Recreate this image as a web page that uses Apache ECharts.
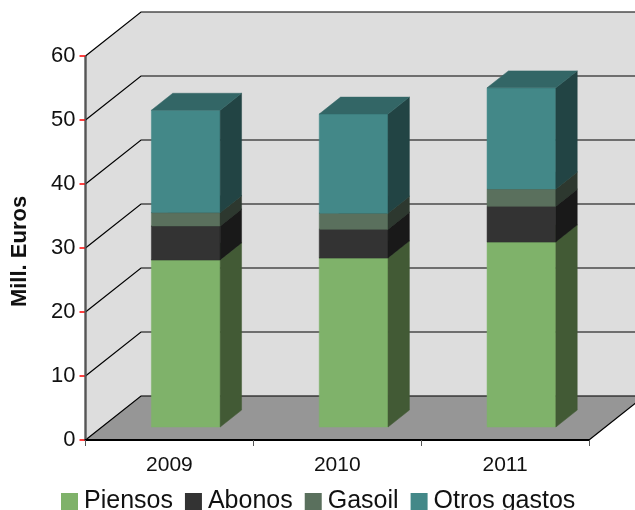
<!DOCTYPE html>
<html>
<head>
<meta charset="utf-8">
<style>
    html, body { margin: 0; padding: 0; background: #fff; overflow: hidden; }
    #chart { width: 635px; height: 510px; }
</style>
<script src="https://cdn.jsdelivr.net/npm/echarts@6/dist/echarts.min.js"></script>
</head>
<body>
<div id="chart"></div>
<script>
const years = ["2009", "2010", "2011"];
const yTicks = [0, 10, 20, 30, 40, 50, 60];

const piensos = [26.1, 26.4, 28.9];
const abonos = [5.3, 4.5, 5.6];
const gasoil = [2.1, 2.5, 2.7];
const otros = [16.0, 15.5, 15.8];

const seriesNames = ["Piensos", "Abonos", "Gasoil", "Otros gastos"];
const seriesValues = [piensos, abonos, gasoil, otros];
const frontColors = ["#7FB26A", "#333333", "#5A705D", "#438888"];
const sideColors = ["#425A35", "#191919", "#2D382F", "#224444"];
const topColors = ["#5F8650", "#262626", "#435446", "#336666"];

const fontFamily = '"Liberation Sans", Arial, sans-serif';

// oblique projection of the chart box
const depthX = 55.5;
const depthY = 44;
const barFront = 0.295;
const barBack = 0.68;
const barRatio = 0.41;
const tickLength = 6;

function project(point, depth) {
    return [point[0] + depth * depthX, point[1] - depth * depthY];
}

function polygon(points, color) {
    return {
        type: "polygon",
        shape: { points },
        style: { fill: color, stroke: color, lineWidth: 0.5 },
    };
}

function renderWalls(params, api) {
    const cs = params.coordSys;
    const bl = [cs.x, cs.y + cs.height];
    const tl = [cs.x, cs.y];
    const br = [cs.x + cs.width, cs.y + cs.height];
    const tr = [cs.x + cs.width, cs.y];
    return {
        type: "group",
        children: [
            polygon([bl, tl, project(tl, 1), project(bl, 1)], "#DDDDDD"),
            polygon([project(bl, 1), project(tl, 1), project(tr, 1), project(br, 1)], "#DDDDDD"),
            polygon([bl, br, project(br, 1), project(bl, 1)], "#969696"),
            {
                type: "polyline",
                shape: { points: [br, project(br, 1)] },
                style: { stroke: "#000", lineWidth: 1.2, fill: null },
            },
        ],
    };
}

// the y axis line and ticks are drawn here so they stay on top of the side wall
function renderGridLine(params, api) {
    const cs = params.coordSys;
    const y = api.coord([0, api.value(0)])[1];
    const start = [cs.x, y];
    const end = [cs.x + cs.width, y];
    return {
        type: "group",
        children: [
            {
                type: "polyline",
                shape: { points: [start, project(start, 1), project(end, 1)] },
                style: { stroke: "#000", lineWidth: 1.2, fill: null },
            },
            {
                type: "polyline",
                shape: { points: [[cs.x - tickLength, y], start] },
                style: { stroke: "#f00", lineWidth: 1.5, fill: null },
            },
            {
                type: "line",
                shape: { x1: cs.x, y1: cs.y, x2: cs.x, y2: cs.y + cs.height },
                style: { stroke: "#555", lineWidth: 1.3 },
            },
        ],
    };
}

function makeBarRenderer(index) {
    return function (params, api) {
        const center = api.coord([api.value(0), api.value(1)]);
        const topCenter = api.coord([api.value(0), api.value(2)]);
        const half = (api.size([1, 0])[0] * barRatio) / 2;
        const lo = project([center[0] - half, center[1]], barFront);
        const ro = project([center[0] + half, center[1]], barFront);
        const lt = project([center[0] - half, topCenter[1]], barFront);
        const rt = project([center[0] + half, topCenter[1]], barFront);
        const shift = function (p) {
            return [p[0] + (barBack - barFront) * depthX, p[1] - (barBack - barFront) * depthY];
        };
        return {
            type: "group",
            children: [
                polygon([lo, ro, rt, lt], frontColors[index]),
                polygon([ro, shift(ro), shift(rt), rt], sideColors[index]),
                polygon([lt, rt, shift(rt), shift(lt)], topColors[index]),
            ],
        };
    };
}

function barData(index) {
    return years.map(function (year, i) {
        let base = 0;
        for (let s = 0; s < index; s++) {
            base += seriesValues[s][i];
        }
        return [i, base, base + seriesValues[index][i]];
    });
}

const chart = echarts.init(document.getElementById("chart"));

const series = [
    {
        type: "custom",
        silent: true,
        clip: false,
        z: 1,
        data: [[0]],
        renderItem: renderWalls,
    },
    {
        type: "custom",
        silent: true,
        clip: false,
        z: 1,
        data: yTicks.map(function (t) { return [t]; }),
        encode: { y: 0 },
        renderItem: renderGridLine,
    },
];

seriesNames.forEach(function (name, index) {
    series.push({
        name,
        type: "custom",
        clip: false,
        z: 2,
        itemStyle: { color: frontColors[index] },
        encode: { x: 0, y: [1, 2] },
        data: barData(index),
        renderItem: makeBarRenderer(index),
    });
});

chart.setOption({
    animation: false,
    backgroundColor: "#fff",
    grid: { left: 85.5, right: 46, top: 56, bottom: 70, outerBoundsMode: "none" },
    legend: {
        data: seriesNames,
        left: 61,
        top: 489,
        padding: 0,
        itemWidth: 17,
        itemHeight: 17,
        itemGap: 12,
        icon: "rect",
        textStyle: { fontFamily, fontSize: 25, color: "#111", padding: [0, 0, 11, 1] },
    },
    xAxis: {
        type: "category",
        data: years,
        z: 5,
        axisLine: { lineStyle: { color: "#000", width: 2 } },
        axisTick: { show: true, alignWithLabel: false, length: tickLength, lineStyle: { color: "#555" } },
        axisLabel: { fontFamily, fontSize: 21, color: "#111", margin: 15 },
    },
    yAxis: {
        type: "value",
        min: 0,
        max: 60,
        interval: 10,
        z: 5,
        name: "Mill. Euros",
        nameLocation: "middle",
        nameGap: 55,
        nameTextStyle: { fontFamily, fontSize: 22, fontWeight: "bold", color: "#111", padding: [0, 7, 0, 0] },
        splitLine: { show: false },
        axisLine: { show: false },
        axisTick: { show: false },
        axisLabel: { fontFamily, fontSize: 22, color: "#111", margin: 10 },
    },
    series,
});
</script>
</body>
</html>
